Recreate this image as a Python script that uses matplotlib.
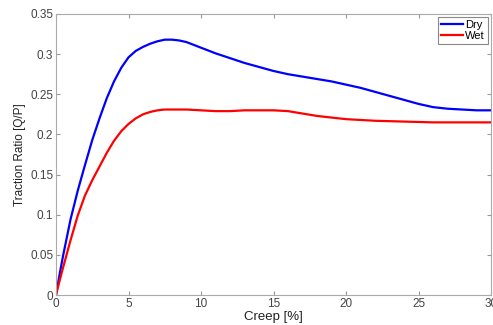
import matplotlib
matplotlib.use("Agg")
import matplotlib.pyplot as plt

# Values
creep_dry = [0, 0.25, 0.5, 1, 1.5, 2, 2.5, 3, 3.5, 4, 4.5, 5, 5.5, 6, 6.5, 7, 7.5, 8, 8.5, 9,
             10, 11, 12, 13, 14, 15, 16, 17, 18, 19, 20, 21, 22, 23, 24, 25, 26, 27, 28, 29, 30]
ratio_dry = [0, 0.026, 0.05, 0.094, 0.13, 0.162, 0.193, 0.22, 0.245, 0.266, 0.283, 0.296, 0.304,
             0.309, 0.313, 0.316, 0.318, 0.318, 0.317, 0.315, 0.308, 0.301, 0.295, 0.289, 0.284,
             0.279, 0.275, 0.272, 0.269, 0.266, 0.262, 0.258, 0.253, 0.248, 0.243, 0.238, 0.234,
             0.232, 0.231, 0.230, 0.230]

creep_wet = [0, 0.25, 0.5, 1, 1.5, 2, 2.5, 3, 3.5, 4, 4.5, 5, 5.5, 6, 6.5, 7, 7.5, 8, 9,
             10, 11, 12, 13, 14, 15, 16, 17, 18, 19, 20, 22, 24, 26, 28, 30]
ratio_wet = [0, 0.018, 0.035, 0.068, 0.099, 0.124, 0.143, 0.16, 0.177, 0.192, 0.204, 0.213, 0.220,
             0.225, 0.228, 0.230, 0.231, 0.231, 0.231, 0.230, 0.229, 0.229, 0.230, 0.230, 0.230,
             0.229, 0.226, 0.223, 0.221, 0.219, 0.217, 0.216, 0.215, 0.215, 0.215]

plt.rcParams['font.family'] = ['Liberation Sans', 'DejaVu Sans']

fig = plt.figure(figsize=(4.93, 3.25), dpi=100)
ax = fig.add_axes([0.1136, 0.0923, 0.8824, 0.8647])

ax.plot(creep_dry, ratio_dry, color='#0000ff', lw=1.6, label='Dry')
ax.plot(creep_wet, ratio_wet, color='#ff0000', lw=1.6, label='Wet')

ax.set_xlim(0, 30)
ax.set_ylim(0, 0.35)
ax.set_xticks([0, 5, 10, 15, 20, 25, 30])
ax.set_yticks([0, 0.05, 0.1, 0.15, 0.2, 0.25, 0.3, 0.35])
ax.set_yticklabels(['0', '0.05', '0.1', '0.15', '0.2', '0.25', '0.3', '0.35'])
ax.tick_params(direction='in', length=3, labelsize=8.5, colors='#999999', labelcolor='#444444',
               top=True, right=True, pad=2)
for s in ax.spines.values():
    s.set_color('#aaaaaa')

ax.set_xlabel('Creep [%]', fontsize=9.5, color='#222222', labelpad=1)
ax.set_ylabel('Traction Ratio [Q/P]', fontsize=8.5, color='#222222', labelpad=3)

leg = ax.legend(loc='upper right', fontsize=8, handlelength=2, handletextpad=0.2,
                borderpad=0.25, labelspacing=0.1, fancybox=False, framealpha=1,
                borderaxespad=0.3)
leg.get_frame().set_edgecolor('#888888')
leg.get_frame().set_linewidth(0.8)

fig.savefig('out.png', dpi=100)
